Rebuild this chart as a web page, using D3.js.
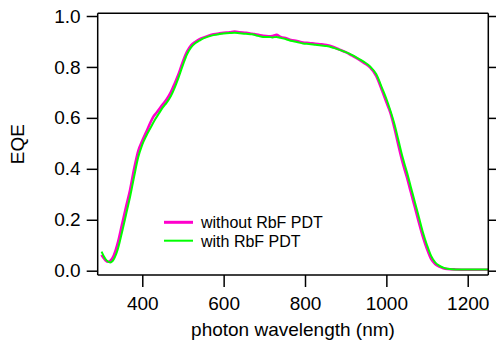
<!DOCTYPE html>
<html><head><meta charset="utf-8">
<script src="https://cdn.jsdelivr.net/npm/d3@7/dist/d3.min.js"></script>
<style>
html,body{margin:0;padding:0;background:#fff;}
svg{display:block;font-family:"Liberation Sans",Arial,sans-serif;}
</style></head>
<body><svg id="c" width="496" height="342"></svg>
<script>
const wavelengthWithout = [300,305,310,316,320,330,340,350,360,370,380,390,400,410,420,427,435,450,460,470,480,490,500,510,520,530,540,550,560,575,590,600,615,627,640,655,670,685,697,710,720,730,740,755,765,780,795,810,825,840,853,870,885,900,915,930,945,960,975,990,1000,1010,1020,1030,1040,1050,1060,1070,1080,1090,1100,1110,1120,1130,1140,1150,1170,1200,1250];
const eqeWithout = [0.062,0.05,0.04,0.035,0.037,0.06,0.11,0.18,0.25,0.317,0.40,0.47,0.51,0.545,0.582,0.604,0.62,0.652,0.673,0.70,0.736,0.775,0.822,0.86,0.885,0.898,0.908,0.915,0.921,0.928,0.932,0.934,0.936,0.939,0.936,0.934,0.93,0.926,0.922,0.92,0.921,0.926,0.918,0.912,0.906,0.902,0.896,0.894,0.891,0.889,0.886,0.878,0.868,0.858,0.845,0.832,0.816,0.798,0.765,0.705,0.662,0.62,0.56,0.49,0.425,0.37,0.31,0.25,0.19,0.133,0.085,0.046,0.026,0.016,0.01,0.007,0.005,0.004,0.004];
const wavelengthWith = [300,305,310,315,321,330,340,350,360,370,380,390,400,410,420,430,440,450,460,470,480,490,500,510,520,530,540,550,560,575,590,600,615,627,640,655,670,685,697,710,720,730,740,755,765,780,795,810,825,840,853,870,885,900,915,930,945,960,975,990,1000,1010,1020,1030,1040,1050,1060,1070,1080,1090,1100,1110,1120,1130,1140,1150,1170,1200,1250];
const eqeWith = [0.075,0.058,0.045,0.037,0.032,0.045,0.085,0.15,0.22,0.29,0.37,0.445,0.495,0.53,0.56,0.59,0.615,0.64,0.66,0.685,0.72,0.762,0.808,0.85,0.877,0.893,0.903,0.912,0.918,0.925,0.929,0.931,0.933,0.934,0.932,0.93,0.928,0.922,0.918,0.918,0.916,0.918,0.914,0.908,0.903,0.898,0.892,0.89,0.887,0.884,0.882,0.875,0.867,0.858,0.847,0.834,0.82,0.802,0.772,0.715,0.675,0.628,0.575,0.51,0.445,0.39,0.33,0.27,0.21,0.15,0.10,0.058,0.033,0.02,0.012,0.008,0.005,0.005,0.005];
const xTicks = [400,600,800,1000,1200];
const yTicks = [0.0,0.2,0.4,0.6,0.8,1.0];
const seriesNames = ["without RbF PDT","with RbF PDT"];
const seriesColors = ["#ff00cc","#00ff00"];

const svg = d3.select("#c");
const L=97.7, R=488.3, T=13.3, B=275;
const x = d3.scaleLinear().domain([290.4,1250.6]).range([L,R]);
const y = d3.scaleLinear().domain([-0.01688,1.0106]).range([B,T]);

const series = [
  {name:seriesNames[0], color:seriesColors[0], w:2.6, pts:wavelengthWithout.map((v,i)=>[v,eqeWithout[i]])},
  {name:seriesNames[1], color:seriesColors[1], w:2, pts:wavelengthWith.map((v,i)=>[v,eqeWith[i]])}
];
const line = d3.line().x(d=>x(d[0])).y(d=>y(d[1])).curve(d3.curveMonotoneX);
series.forEach(s=>{
  svg.append("path").attr("d",line(s.pts)).attr("fill","none")
    .attr("stroke",s.color).attr("stroke-width",s.w).attr("stroke-linejoin","round");
});

// frame top
svg.append("line").attr("x1",L).attr("x2",R).attr("y1",T).attr("y2",T).attr("stroke","#000").attr("stroke-width",1.5);

const fs = 19;
const gl = svg.append("g").attr("transform",`translate(${L},0)`)
  .call(d3.axisLeft(y).tickValues(yTicks).tickSize(11).tickPadding(6).tickFormat(d3.format(".1f")));
const gr = svg.append("g").attr("transform",`translate(${R},0)`)
  .call(d3.axisRight(y).tickValues(yTicks).tickSize(8).tickFormat(""));
const gb = svg.append("g").attr("transform",`translate(0,${B})`)
  .call(d3.axisBottom(x).tickValues(xTicks).tickSize(12).tickPadding(10).tickFormat(d3.format("d")));
[gl,gr,gb].forEach(g=>{
  g.select(".domain").attr("stroke","#000").attr("stroke-width",1.5);
  g.selectAll(".tick line").attr("stroke","#000").attr("stroke-width",1.5);
  g.selectAll("text").attr("font-size",fs).attr("fill","#000").attr("font-family","Liberation Sans, Arial, sans-serif");
});
gl.select(".domain").attr("d",`M0,${T}V${B}`);
gr.select(".domain").attr("d",`M0,${T}V${B}`);
gb.select(".domain").attr("d",`M${L},0H${R}`);

svg.append("text").attr("transform",`translate(24,${(T+B)/2}) rotate(-90)`)
  .attr("text-anchor","middle").attr("font-size",fs).attr("fill","#000").text("EQE");
svg.append("text").attr("x",(L+R)/2).attr("y",336).attr("text-anchor","middle")
  .attr("font-size",fs).attr("fill","#000").text("photon wavelength (nm)");

// legend
const lg = svg.append("g");
series.forEach((s,i)=>{
  const yy = 222.3 + i*18.4;
  lg.append("line").attr("x1",164).attr("x2",193).attr("y1",yy).attr("y2",yy)
    .attr("stroke",s.color).attr("stroke-width",i===0?3:2);
  lg.append("text").attr("x",201).attr("y",yy+5.8).attr("font-size",16).attr("fill","#000").text(s.name);
});
</script></body></html>
